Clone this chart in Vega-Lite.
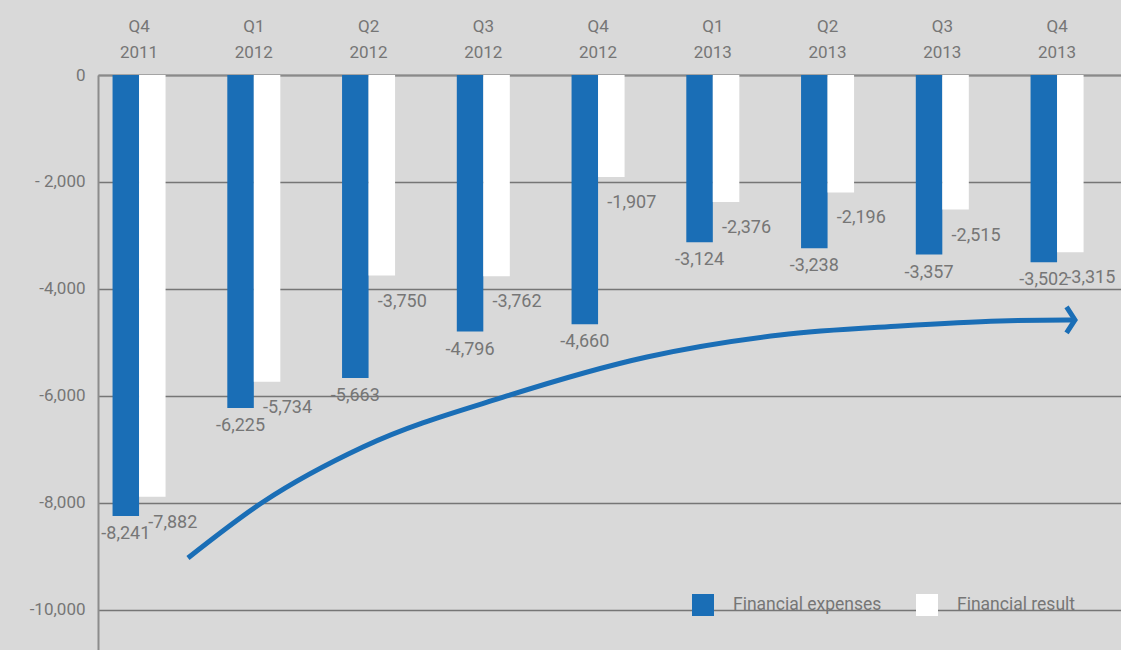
{
  "$schema": "https://vega.github.io/schema/vega-lite/v6.json",
  "width": 1023,
  "height": 575,
  "autosize": {"type": "none"},
  "padding": {"left": 98, "top": 75, "right": 0, "bottom": 0},
  "background": "#d9d9d9",
  "config": {
    "view": {"stroke": null},
    "font": "Roboto",
    "axis": {"labelColor": "#767676", "labelFont": "Roboto"}
  },
  "datasets": {
    "bars": [
      {"quarter": "Q4 2011", "series": "Financial expenses", "value": -8241},
      {"quarter": "Q4 2011", "series": "Financial result", "value": -7882},
      {"quarter": "Q1 2012", "series": "Financial expenses", "value": -6225},
      {"quarter": "Q1 2012", "series": "Financial result", "value": -5734},
      {"quarter": "Q2 2012", "series": "Financial expenses", "value": -5663},
      {"quarter": "Q2 2012", "series": "Financial result", "value": -3750},
      {"quarter": "Q3 2012", "series": "Financial expenses", "value": -4796},
      {"quarter": "Q3 2012", "series": "Financial result", "value": -3762},
      {"quarter": "Q4 2012", "series": "Financial expenses", "value": -4660},
      {"quarter": "Q4 2012", "series": "Financial result", "value": -1907},
      {"quarter": "Q1 2013", "series": "Financial expenses", "value": -3124},
      {"quarter": "Q1 2013", "series": "Financial result", "value": -2376},
      {"quarter": "Q2 2013", "series": "Financial expenses", "value": -3238},
      {"quarter": "Q2 2013", "series": "Financial result", "value": -2196},
      {"quarter": "Q3 2013", "series": "Financial expenses", "value": -3357},
      {"quarter": "Q3 2013", "series": "Financial result", "value": -2515},
      {"quarter": "Q4 2013", "series": "Financial expenses", "value": -3502},
      {"quarter": "Q4 2013", "series": "Financial result", "value": -3315}
    ],
    "curve": [
      {"xi": 0.427, "v": -9028},
      {"xi": 1.081, "v": -7981},
      {"xi": 1.952, "v": -6953},
      {"xi": 3.207, "v": -6000},
      {"xi": 4.427, "v": -5271},
      {"xi": 5.586, "v": -4860},
      {"xi": 6.632, "v": -4692},
      {"xi": 7.503, "v": -4598},
      {"xi": 8.087, "v": -4579},
      {"xi": 8.157, "v": -4579}
    ],
    "tip": [{"xi": 8.157, "v": -4579}]
  },
  "resolve": {"scale": {"x": "independent"}},
  "layer": [
    {
      "layer": [
        {
          "data": {"name": "bars"},
          "mark": {"type": "bar"},
          "encoding": {
            "x": {
              "field": "quarter", "type": "nominal", "sort": null,
              "scale": {"paddingInner": 0.538, "paddingOuter": 0.2265, "align": 0.28},
              "axis": {
                "orient": "top", "title": null, "labelAngle": 0,
                "labelExpr": "split(datum.value, ' ')",
                "labelFont": "Roboto",
                "labelFontSize": 17, "labelLineHeight": 26, "labelColor": "#767676",
                "labelPadding": 40, "ticks": false,
                "domain": true, "domainColor": "#8a8a8a", "domainWidth": 2
              }
            },
            "xOffset": {"field": "series", "type": "nominal", "sort": ["Financial expenses", "Financial result"]},
            "y": {
              "field": "value", "type": "quantitative",
              "scale": {"domain": [-10748, 0], "nice": false, "zero": false},
              "axis": {
                "title": null, "values": [0, -2000, -4000, -6000, -8000, -10000],
                "labelExpr": "datum.value == -2000 ? '- 2,000' : replace(datum.label, '\u2212', '-')",
                "labelFontSize": 17, "labelPadding": 13, "ticks": false,
                "domain": true, "domainColor": "#8c8c8c", "domainWidth": 2,
                "grid": true, "gridColor": "#767676", "gridWidth": 1.5
              }
            },
            "color": {
              "field": "series", "type": "nominal",
              "scale": {"domain": ["Financial expenses", "Financial result"], "range": ["#1a6eb6", "#ffffff"]},
              "legend": {
                "orient": "none", "legendX": 594, "legendY": 519, "direction": "horizontal",
                "title": null, "symbolType": "square", "symbolSize": 484, "symbolStrokeWidth": 0,
                "symbolOpacity": 1, "labelOffset": 19, "columnPadding": 34,
                "labelFontSize": 17.5, "labelColor": "#767676", "labelFont": "Roboto", "padding": 0
              }
            }
          }
        },
        {
          "data": {"name": "bars"},
          "transform": [
            {"filter": "datum.series == 'Financial expenses'"},
            {"calculate": "replace(format(datum.value, ','), '\u2212', '-')", "as": "label"}
          ],
          "mark": {"type": "text", "align": "center", "baseline": "top", "dy": 9, "fontSize": 18, "color": "#767676"},
          "encoding": {
            "x": {"field": "quarter", "type": "nominal", "sort": null},
            "xOffset": {"field": "series", "type": "nominal", "sort": ["Financial expenses", "Financial result"]},
            "y": {"field": "value", "type": "quantitative"},
            "text": {"field": "label", "type": "nominal"}
          }
        },
        {
          "data": {"name": "bars"},
          "transform": [
            {"filter": "datum.series == 'Financial result'"},
            {"calculate": "replace(format(datum.value, ','), '\u2212', '-')", "as": "label"}
          ],
          "mark": {"type": "text", "align": "left", "baseline": "top", "dx": -4, "dy": 17, "fontSize": 18, "color": "#767676"},
          "encoding": {
            "x": {"field": "quarter", "type": "nominal", "sort": null},
            "xOffset": {"field": "series", "type": "nominal", "sort": ["Financial expenses", "Financial result"]},
            "y": {"field": "value", "type": "quantitative"},
            "text": {"field": "label", "type": "nominal"}
          }
        }
      ]
    },
    {
      "layer": [
        {
          "data": {"name": "curve"},
          "mark": {"type": "line", "color": "#1a6eb6", "strokeWidth": 5, "interpolate": "monotone", "strokeCap": "butt"},
          "encoding": {
            "x": {"field": "xi", "type": "quantitative", "scale": {"domain": [-0.357, 8.558], "nice": false, "zero": false}, "axis": null},
            "y": {"field": "v", "type": "quantitative"}
          }
        },
        {
          "data": {"name": "tip"},
          "mark": {"type": "point", "shape": "M-0.65,-1L0,0L-0.65,1", "filled": false, "size": 676, "stroke": "#1a6eb6", "strokeWidth": 5, "opacity": 1},
          "encoding": {
            "x": {"field": "xi", "type": "quantitative", "scale": {"domain": [-0.357, 8.558], "nice": false, "zero": false}, "axis": null},
            "y": {"field": "v", "type": "quantitative"}
          }
        }
      ]
    }
  ]
}
